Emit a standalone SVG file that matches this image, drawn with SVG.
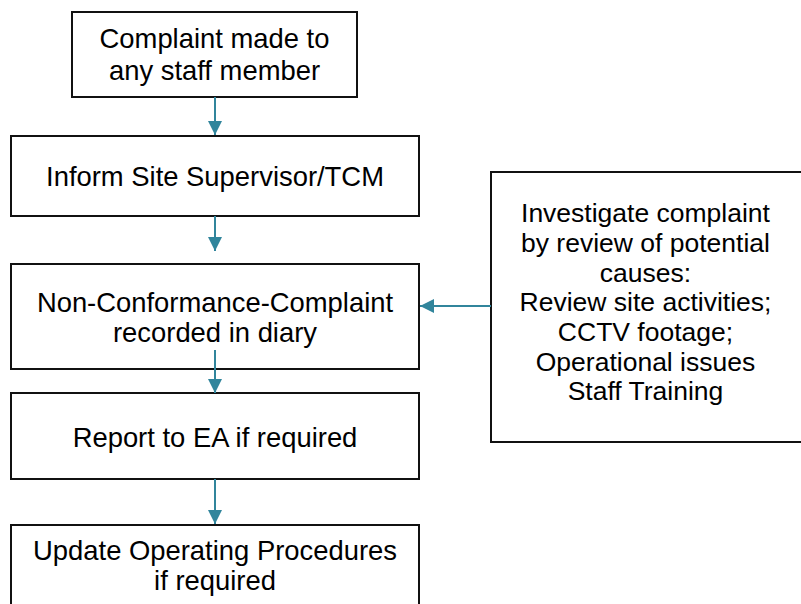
<svg xmlns="http://www.w3.org/2000/svg" width="801" height="604" viewBox="0 0 801 604">
<defs>
<style>
.box{fill:#fff;stroke:#111;stroke-width:2}
.t{font-family:"Liberation Sans",Arial,sans-serif;font-size:27.4px;fill:#000;text-anchor:middle}
.r{font-size:26.5px}
.c{stroke:#31859C;stroke-width:2;fill:none}
</style>
<marker id="ah" markerWidth="14" markerHeight="14" viewBox="0 0 14 14" refX="14" refY="7" orient="auto" markerUnits="userSpaceOnUse">
<path d="M0,0 L14,7 L0,14 Z" fill="#31859C"/>
</marker>
</defs>
<rect width="801" height="604" fill="#fff"/>
<g id="n1">
<rect class="box" x="72" y="12" width="285" height="85"/>
<text class="t" x="214.5" y="48">Complaint made to</text>
<text class="t" x="214.5" y="80">any staff member</text>
</g>
<g id="n2">
<rect class="box" x="11" y="136" width="408" height="80"/>
<text class="t" x="215" y="186">Inform Site Supervisor/TCM</text>
</g>
<g id="n3">
<rect class="box" x="11" y="264" width="408" height="105"/>
<text class="t" x="215" y="312">Non-Conformance-Complaint</text>
<text class="t" x="215" y="342">recorded in diary</text>
</g>
<g id="n4">
<rect class="box" x="11" y="393" width="408" height="86"/>
<text class="t" x="215" y="447">Report to EA if required</text>
</g>
<g id="n5">
<rect class="box" x="11" y="525" width="408" height="100"/>
<text class="t" x="215" y="560">Update Operating Procedures</text>
<text class="t" x="215" y="590">if required</text>
</g>
<g id="n6">
<rect class="box" x="491" y="172" width="330" height="270"/>
<text class="t r" x="645.5" y="222">Investigate complaint</text>
<text class="t r" x="645.5" y="252">by review of potential</text>
<text class="t r" x="645.5" y="281.5">causes:</text>
<text class="t r" x="645.5" y="311">Review site activities;</text>
<text class="t r" x="645.5" y="341">CCTV footage;</text>
<text class="t r" x="645.5" y="370.5">Operational issues</text>
<text class="t r" x="645.5" y="400">Staff Training</text>
</g>
<g id="connectors">
<line class="c" x1="215" y1="97" x2="215" y2="135" marker-end="url(#ah)"/>
<line class="c" x1="215" y1="216" x2="215" y2="251" marker-end="url(#ah)"/>
<line class="c" x1="215" y1="350" x2="215" y2="393" marker-end="url(#ah)"/>
<line class="c" x1="215" y1="479" x2="215" y2="524" marker-end="url(#ah)"/>
<line class="c" x1="491" y1="306" x2="420" y2="306" marker-end="url(#ah)"/>
</g>
</svg>
